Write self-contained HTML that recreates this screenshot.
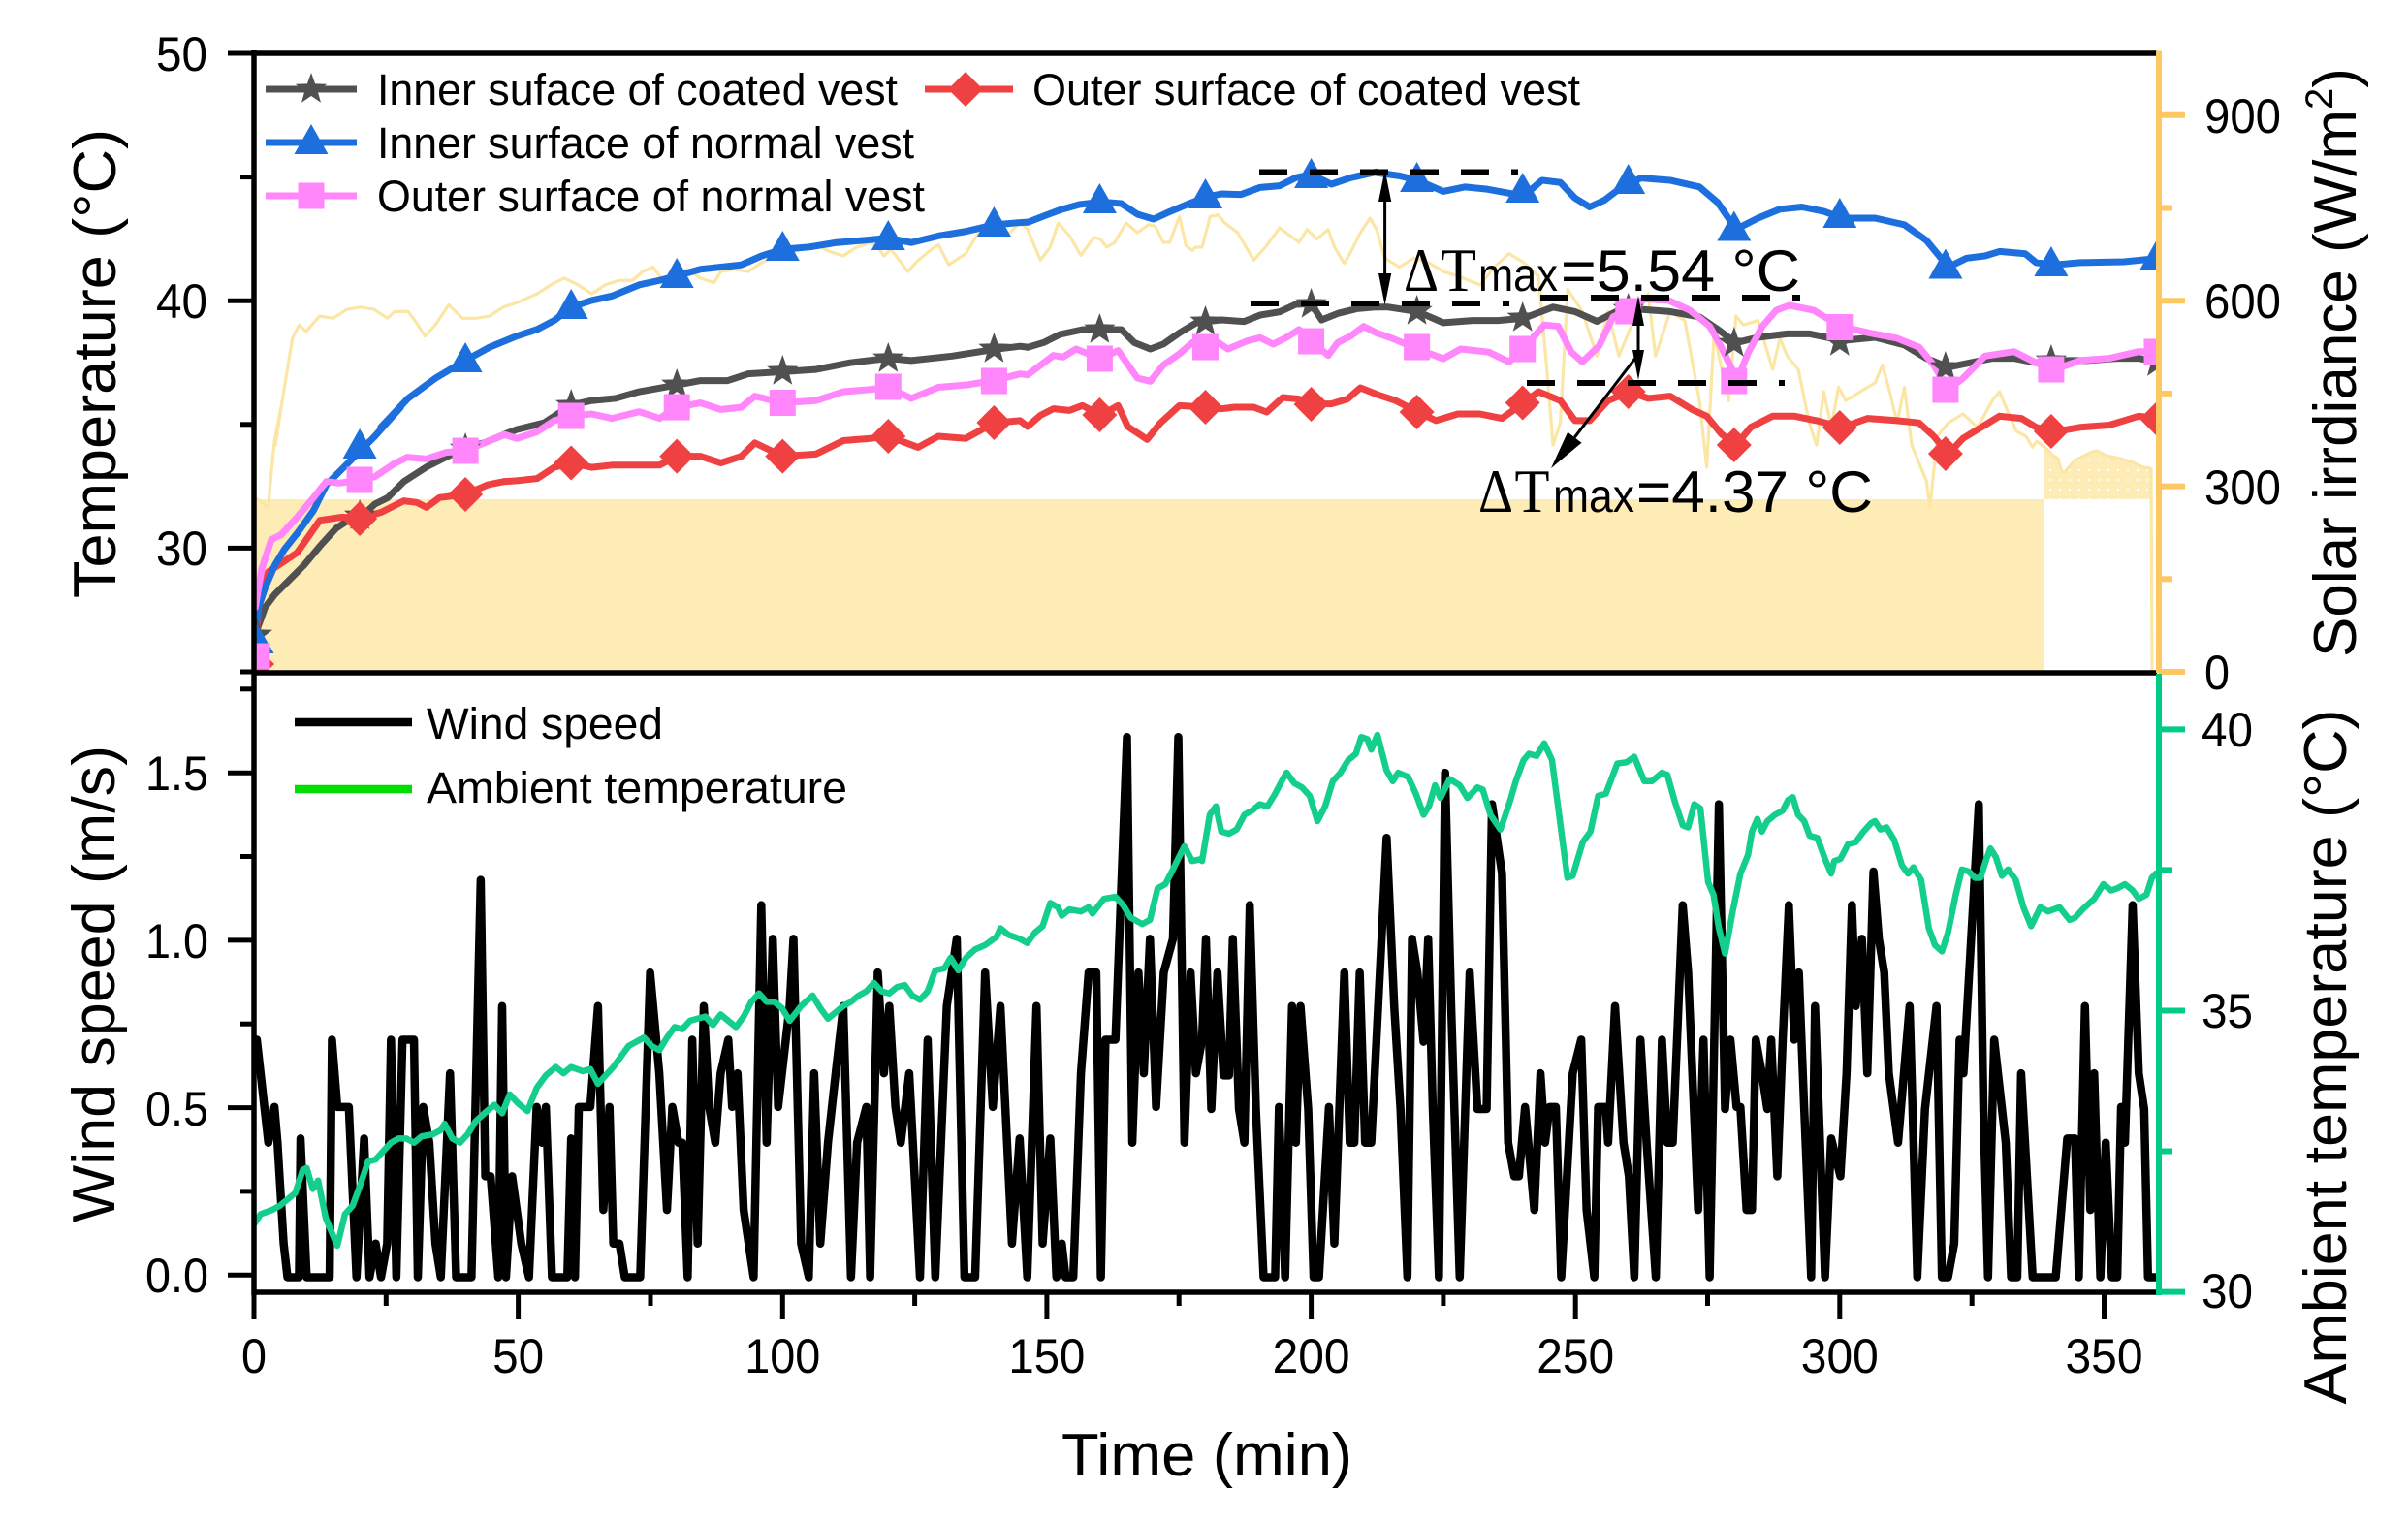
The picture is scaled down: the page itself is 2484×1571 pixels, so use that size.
<!DOCTYPE html>
<html><head><meta charset="utf-8">
<style>
html,body{margin:0;padding:0;background:#fff;}
svg{display:block;}
.ln{fill:none;vector-effect:non-scaling-stroke;stroke-linejoin:round;stroke-linecap:round;}
</style></head>
<body>
<svg width="2484" height="1571" viewBox="0 0 2484 1571" xmlns="http://www.w3.org/2000/svg" font-family="'Liberation Sans', Arial, sans-serif">
<defs>
<clipPath id="ct"><rect x="262" y="55" width="1963" height="638"/></clipPath>
<clipPath id="cb"><rect x="262" y="694" width="1963" height="639"/></clipPath>
<pattern id="dots" width="10" height="10" patternUnits="userSpaceOnUse"><rect width="10" height="10" fill="#fdecb6"/><circle cx="5" cy="5" r="1.1" fill="#fff"/></pattern>
<path id="star" d="M0,-17 L4.11,-5.66 L16.17,-5.25 L6.66,2.16 L9.99,13.75 L0,7 L-9.99,13.75 L-6.66,2.16 L-16.17,-5.25 L-4.11,-5.66Z"/>
<path id="tri" d="M0,-19 L17.5,12 L-17.5,12Z"/>
<path id="sq" d="M-13.5,-13.5h27v27h-27z"/>
<path id="dia" d="M0,-18 L18,0 L0,18 L-18,0Z"/>
</defs>
<rect width="2484" height="1571" fill="#fff"/>

<!-- ============ TOP PANEL ============ -->
<g clip-path="url(#ct)">
<rect x="262" y="515" width="1846" height="178" fill="#fdecb6"/>
<polygon points="2108,515 2108,460 2118,470 2123,473 2126.7,486.7 2130,486.7 2140,475 2156.7,466.7 2163,465 2173,470 2186.7,473 2200,476.7 2210,481.7 2219,483.3 2219,515" fill="url(#dots)"/>

<!-- solar thin line -->
<g stroke="#fbe6a6" stroke-width="3.2">
<path class="ln" transform="translate(240,420) scale(0.33333)" d="M40,285 L78,285 L110,310 L120,200 L130,100 L150,0"/>
<path class="ln" transform="scale(0.70151,0.45914)" d="M405,1000 L415,900 L430,760 L440,730 L450,745 L470,710 L490,715 L510,695 L530,690 L550,695 L570,715 L580,700 L600,700 L610,720 L625,755 L640,730 L660,685 L680,715 L700,715 L720,710 L740,690 L760,680 L790,660 L810,640 L830,625 L850,640 L870,660 L890,640 L910,630 L930,630 L945,610 L960,600 L975,630 L990,620 L1000,615 L1010,605 L1030,625 L1050,635 L1060,610 L1080,605 L1100,610 L1120,590 L1150,570 L1180,560 L1200,550 L1220,565 L1240,575 L1260,555 L1280,545 L1290,555 L1300,575 L1310,560 L1320,580 L1335,610 L1350,585 L1370,560 L1380,550 L1395,595 L1420,570 L1430,545 L1440,520 L1450,510 L1470,520 L1480,530 L1500,500 L1511,515"/>
<path class="ln" transform="translate(1060,140) scale(0.33333)" d="M0,290 L40,385 L70,345 L95,270 L130,310 L165,370 L205,315 L225,320 L245,345 L270,330 L305,270 L340,300 L375,275 L395,280 L420,330 L440,330 L470,250 L490,340 L510,355 L520,345 L540,345 L565,250 L590,245 L610,270 L650,300 L700,385 L740,340 L780,285 L840,330 L865,290 L895,320 L930,290 L950,345 L980,395 L1000,360 L1030,300 L1060,255 L1080,290"/>
<path class="ln" transform="translate(1300,0) scale(0.75512,0.45914)" d="M159,515 L170,580 L190,600 L210,580 L230,590 L250,610 L270,620 L300,640 L320,600 L340,570 L360,590 L380,620 L390,800 L400,1000 L410,950 L420,650 L440,700 L460,800 L475,700 L490,800 L510,720 L530,660 L540,800 L560,700 L580,720 L600,900 L610,1050 L620,750 L640,900 L650,710 L660,730 L680,720 L700,830 L710,760 L720,800 L735,830 L750,950 L760,1000 L770,880 L780,960 L790,870 L800,900 L820,880 L840,860 L850,820 L860,880 L870,950 L880,870 L890,1000 L910,1080 L915,1140 L925,980 L940,950 L960,930 L980,960 L1000,900 L1010,880 L1024,936 L1033,969 L1046,980 L1055,1005 L1061,991 L1069,1002"/>
<path class="ln" d="M2108,460 L2118,470 L2123,473 L2126.7,486.7 L2130,486.7 L2140,475 L2156.7,466.7 L2163,465 L2173,470 L2186.7,473 L2200,476.7 L2210,481.7 L2219,483.3 L2220,693"/>
</g>

<!-- gray: inner coated -->
<g stroke="#505050" stroke-width="7">
<path class="ln" transform="translate(240,420) scale(0.33333)" d="M75,690 L100,620 L130,580 L170,540 L220,490 L270,430 L320,375 L350,355 L392,345 L440,300 L480,280 L530,230 L600,185 L660,155 L722,125 L780,110 L840,85"/>
<path class="ln" transform="scale(0.70151,0.45914)" d="M741,976 L760,965 L800,950 L840,910 L870,900 L905,895 L940,880 L995,865 L1030,855 L1070,855 L1100,840 L1151,835 L1200,830 L1250,815 L1306,805 L1340,810 L1400,800 L1462,785 L1500,778 L1511,780"/>
<path class="ln" transform="translate(1060,140) scale(0.33333)" d="M0,655 L50,640 L100,615 L170,600 L228,600 L290,600 L330,640 L380,660 L420,645 L470,610 L520,580 L552,575 L600,570 L670,575 L720,555 L780,545 L830,522 L878,520 L910,570 L960,550 L1020,535 L1080,530"/>
<path class="ln" transform="translate(1300,0) scale(0.75512,0.45914)" d="M159,690 L175,690 L215,700 L250,725 L290,720 L325,720 L360,715 L400,690 L430,700 L460,722 L490,697 L520,695 L560,700 L600,712 L625,740 L650,770 L680,758 L720,750 L750,750 L795,765 L840,758 L880,775 L910,805 L940,825 L970,815 L1000,805 L1030,805 L1060,815 L1085,810 L1130,810 L1170,805 L1200,805 L1230,815"/>
</g>

<!-- red: outer coated -->
<g stroke="#f04142" stroke-width="7">
<path class="ln" transform="translate(240,420) scale(0.33333)" d="M65,800 L80,620 L110,510 L140,490 L200,450 L270,350 L340,340 L392,345 L460,325 L530,290 L570,295 L600,310 L640,280 L720,270 L790,240 L840,230"/>
<path class="ln" transform="scale(0.70151,0.45914)" d="M741,1082 L760,1080 L790,1075 L815,1050 L840,1040 L870,1050 L900,1045 L940,1045 L970,1045 L995,1025 L1030,1025 L1060,1040 L1090,1025 L1110,995 L1151,1025 L1200,1020 L1240,990 L1280,985 L1306,980 L1350,1005 L1380,980 L1420,985 L1462,950 L1500,945 L1511,958"/>
<path class="ln" transform="translate(1060,140) scale(0.33333)" d="M0,900 L40,865 L80,845 L130,850 L170,835 L226,865 L280,835 L310,900 L370,940 L410,890 L470,835 L552,840 L600,845 L640,840 L700,840 L740,855 L790,810 L840,815 L878,830 L940,830 L990,815 L1030,780 L1080,800"/>
<path class="ln" transform="translate(1300,0) scale(0.75512,0.45914)" d="M159,886 L185,900 L215,925 L240,945 L270,930 L300,930 L330,940 L360,905 L380,880 L410,900 L430,945 L450,945 L475,900 L505,880 L530,895 L560,890 L590,920 L610,935 L630,975 L650,1000 L670,960 L700,935 L730,935 L760,945 L795,960 L830,940 L870,945 L900,950 L920,980 L940,1020 L960,985 L990,955 L1010,935 L1040,940 L1060,960 L1085,970 L1120,960 L1160,955 L1200,935 L1230,940"/>
</g>

<!-- blue: inner normal -->
<g stroke="#1c6fdc" stroke-width="7">
<path class="ln" transform="translate(240,420) scale(0.33333)" d="M70,700 L80,620 L100,560 L130,490 L160,440 L200,390 L250,320 L290,240 L330,200 L390,140 L440,90 L520,0"/>
<path class="ln" transform="scale(0.70151,0.45914)" d="M560,960 L600,895 L640,850 L684,810 L720,780 L760,755 L790,740 L815,720 L840,690 L870,675 L900,665 L940,640 L970,630 L995,620 L1030,605 L1060,600 L1090,595 L1120,575 L1151,560 L1190,555 L1230,545 L1270,540 L1306,535 L1340,545 L1380,530 L1420,520 L1462,505 L1500,500 L1511,499"/>
<path class="ln" transform="translate(1060,140) scale(0.33333)" d="M0,268 L60,245 L100,230 L160,213 L228,205 L290,210 L340,243 L390,258 L440,235 L500,210 L552,190 L600,180 L660,182 L720,160 L780,155 L830,130 L878,120 L940,150 L1000,130 L1080,112"/>
<path class="ln" transform="translate(1300,0) scale(0.75512,0.45914)" d="M159,388 L190,395 L215,405 L250,430 L280,420 L310,425 L360,440 L385,405 L410,410 L430,445 L450,465 L470,450 L490,425 L520,400 L560,405 L600,420 L625,455 L650,515 L680,490 L710,470 L740,465 L770,475 L795,490 L840,490 L880,505 L910,540 L940,600 L965,580 L990,575 L1010,565 L1045,570 L1060,590 L1085,595 L1120,590 L1180,588 L1230,580"/>
</g>

<!-- pink: outer normal -->
<g stroke="#ff86fb" stroke-width="7">
<path class="ln" transform="translate(240,420) scale(0.33333)" d="M70,620 L90,500 L120,410 L150,395 L200,340 L250,280 L290,230 L330,235 L394,225 L440,215 L500,175 L540,155 L600,160 L660,140 L722,135 L780,110 L840,85"/>
<path class="ln" transform="scale(0.70151,0.45914)" d="M741,976 L760,985 L790,970 L815,945 L840,935 L870,930 L900,940 L940,925 L970,940 L995,915 L1030,905 L1060,920 L1090,915 L1110,890 L1151,905 L1200,900 L1240,880 L1280,875 L1306,870 L1340,895 L1380,870 L1420,865 L1462,855 L1500,840 L1511,842"/>
<path class="ln" transform="translate(1060,140) scale(0.33333)" d="M0,740 L40,710 L80,680 L110,685 L150,660 L226,690 L280,665 L340,750 L380,760 L420,710 L470,675 L510,640 L555,655 L590,640 L620,660 L680,635 L720,625 L760,645 L800,625 L840,600 L880,635 L930,680 L960,640 L1000,620 L1040,590 L1080,610"/>
<path class="ln" transform="translate(1300,0) scale(0.75512,0.45914)" d="M159,748 L180,760 L215,784 L250,806 L274,784 L312,791 L340,813 L359,784 L388,730 L407,733 L425,791 L440,813 L463,777 L482,712 L501,697 L525,672 L558,675 L587,697 L614,733 L629,777 L644,828 L650,860 L667,791 L686,733 L705,697 L723,686 L756,697 L792,733 L832,748 L870,760 L900,780 L920,820 L940,875 L960,850 L990,800 L1030,790 L1060,815 L1085,830 L1120,810 L1160,805 L1200,790 L1230,790"/>
</g>

<!-- markers -->
<g fill="#505050">
<use href="#star" x="265" y="655"/><use href="#star" x="371.1" y="532"/><use href="#star" x="480.1" y="463"/><use href="#star" x="589.2" y="418"/><use href="#star" x="698.2" y="397"/><use href="#star" x="807.3" y="383"/><use href="#star" x="916.3" y="370"/><use href="#star" x="1025.4" y="360"/><use href="#star" x="1134.4" y="340"/><use href="#star" x="1243.5" y="332"/><use href="#star" x="1352.6" y="314"/><use href="#star" x="1461.6" y="321"/><use href="#star" x="1570.7" y="328"/><use href="#star" x="1679.7" y="319"/><use href="#star" x="1788.8" y="354"/><use href="#star" x="1897.8" y="353"/><use href="#star" x="2006.9" y="379"/><use href="#star" x="2115.9" y="372"/><use href="#star" x="2225" y="374"/>
</g>
<g fill="#f04142">
<use href="#dia" x="265" y="685"/><use href="#dia" x="371.1" y="535"/><use href="#dia" x="480.1" y="510"/><use href="#dia" x="589.2" y="477.5"/><use href="#dia" x="698.2" y="470.6"/><use href="#dia" x="807.3" y="470.6"/><use href="#dia" x="916.3" y="450"/><use href="#dia" x="1025.4" y="436"/><use href="#dia" x="1134.4" y="428"/><use href="#dia" x="1243.5" y="420"/><use href="#dia" x="1352.6" y="417"/><use href="#dia" x="1461.6" y="425"/><use href="#dia" x="1570.7" y="415.5"/><use href="#dia" x="1679.7" y="404"/><use href="#dia" x="1788.8" y="459"/><use href="#dia" x="1897.8" y="441"/><use href="#dia" x="2006.9" y="468"/><use href="#dia" x="2115.9" y="445"/><use href="#dia" x="2225" y="432"/>
</g>
<g fill="#1c6fdc">
<use href="#tri" x="265" y="662"/><use href="#tri" x="371.1" y="461"/><use href="#tri" x="480.1" y="372"/><use href="#tri" x="589.2" y="317"/><use href="#tri" x="698.2" y="285"/><use href="#tri" x="807.3" y="257"/><use href="#tri" x="916.3" y="246"/><use href="#tri" x="1025.4" y="232"/><use href="#tri" x="1134.4" y="208"/><use href="#tri" x="1243.5" y="203"/><use href="#tri" x="1352.6" y="182"/><use href="#tri" x="1461.6" y="186"/><use href="#tri" x="1570.7" y="197"/><use href="#tri" x="1679.7" y="188"/><use href="#tri" x="1788.8" y="236.5"/><use href="#tri" x="1897.8" y="223"/><use href="#tri" x="2006.9" y="275.5"/><use href="#tri" x="2115.9" y="273"/><use href="#tri" x="2225" y="266"/>
</g>
<g fill="#ff86fb">
<use href="#sq" x="265" y="677"/><use href="#sq" x="371.1" y="495"/><use href="#sq" x="480.1" y="465"/><use href="#sq" x="589.2" y="429"/><use href="#sq" x="698.2" y="420"/><use href="#sq" x="807.3" y="415.5"/><use href="#sq" x="916.3" y="399"/><use href="#sq" x="1025.4" y="393"/><use href="#sq" x="1134.4" y="370"/><use href="#sq" x="1243.5" y="358"/><use href="#sq" x="1352.6" y="352"/><use href="#sq" x="1461.6" y="358"/><use href="#sq" x="1570.7" y="360"/><use href="#sq" x="1679.7" y="321"/><use href="#sq" x="1788.8" y="393"/><use href="#sq" x="1897.8" y="337.5"/><use href="#sq" x="2006.9" y="402"/><use href="#sq" x="2115.9" y="381"/><use href="#sq" x="2225" y="363"/>
</g>
</g>

<!-- annotations -->
<g stroke="#000" stroke-width="6" stroke-dasharray="29 23">
<line x1="1299" y1="177.5" x2="1566" y2="177.5"/>
<line x1="1290" y1="313" x2="1557" y2="313"/>
<line x1="1589" y1="307" x2="1857" y2="307"/>
<line x1="1575" y1="395" x2="1841" y2="395"/>
</g>
<g stroke="#000" stroke-width="3">
<line x1="1428.6" y1="200" x2="1428.6" y2="290"/>
<line x1="1690" y1="330" x2="1690" y2="367"/>
<line x1="1688" y1="368" x2="1624.3" y2="451.2"/>
</g>
<g fill="#000">
<polygon points="1428.6,175 1422,208 1435.2,208"/>
<polygon points="1428.6,315 1422,282 1435.2,282"/>
<polygon points="1690,305 1684,336 1696,336"/>
<polygon points="1690,392 1684,361 1696,361"/>
<polygon points="1600,483 1631.5,456.7 1617.2,445.7"/>
</g>
<g fill="#000">
<text x="1448" y="300" font-family="'Liberation Serif', serif" font-size="64" textLength="36" lengthAdjust="spacingAndGlyphs">Δ</text>
<text x="1486" y="300" font-family="'Liberation Serif', serif" font-size="64" textLength="37" lengthAdjust="spacingAndGlyphs">T</text>
<text x="1525" y="300" font-size="48" textLength="82" lengthAdjust="spacingAndGlyphs">max</text>
<text x="1610" y="300" font-size="60" textLength="247" lengthAdjust="spacingAndGlyphs">=5.54 °C</text>
<text x="1525" y="528" font-family="'Liberation Serif', serif" font-size="64" textLength="36" lengthAdjust="spacingAndGlyphs">Δ</text>
<text x="1562.5" y="528" font-family="'Liberation Serif', serif" font-size="64" textLength="36" lengthAdjust="spacingAndGlyphs">T</text>
<text x="1602" y="528" font-size="48" textLength="84" lengthAdjust="spacingAndGlyphs">max</text>
<text x="1688" y="528" font-size="60" textLength="244" lengthAdjust="spacingAndGlyphs">=4.37 °C</text>
</g>

<!-- top legend -->
<g stroke-width="7" fill="none">
<line x1="274" y1="92" x2="368" y2="92" stroke="#505050"/>
<line x1="954" y1="92" x2="1045" y2="92" stroke="#f04142"/>
<line x1="274" y1="147" x2="368" y2="147" stroke="#1c6fdc"/>
<line x1="274" y1="202" x2="368" y2="202" stroke="#ff86fb"/>
</g>
<use href="#star" x="321" y="92" fill="#505050"/>
<use href="#dia" x="996" y="92" fill="#f04142"/>
<use href="#tri" x="321" y="147" fill="#1c6fdc"/>
<use href="#sq" x="321" y="202" fill="#ff86fb"/>
<g font-size="45" fill="#000">
<text x="389" y="108" textLength="537" lengthAdjust="spacingAndGlyphs">Inner suface of coated vest</text>
<text x="1065" y="108" textLength="565" lengthAdjust="spacingAndGlyphs">Outer surface of coated vest</text>
<text x="389" y="163" textLength="554" lengthAdjust="spacingAndGlyphs">Inner surface of normal vest</text>
<text x="389" y="218" textLength="565" lengthAdjust="spacingAndGlyphs">Outer surface of normal vest</text>
</g>

<!-- ============ BOTTOM PANEL ============ -->
<g clip-path="url(#cb)">
<g stroke="#000" stroke-width="8.5">
<path class="ln" transform="translate(0,680) scale(0.79083,0.43365)" d="M331,905 L335,905 L350,1150 L358,1065 L362,1150 L370,1390 L375,1470 L390,1470 L392,1140 L400,1470 L430,1470 L433,905 L440,1065 L455,1065 L465,1470 L475,1140 L482,1470 L490,1390 L497,1470 L505,1390 L510,905 L517,1470 L525,905 L540,905 L545,1470 L552,1065 L560,1150 L568,1390 L575,1470 L587,985 L595,1470 L615,1470 L627,525 L633,1230 L640,1230 L650,1470 L655,825 L660,1470 L668,1230 L680,1390 L690,1470 L700,1065 L707,1150 L712,1065 L720,1470 L740,1470 L745,1140 L750,1470 L755,1065 L770,1065 L780,825 L787,1310 L795,1065 L800,1390 L808,1390 L815,1470 L835,1470 L848,745 L860,985 L870,1310 L877,1065 L885,1150 L890,1150 L897,1470 L903,905 L910,1390 L918,825 L925,1065 L933,1150 L940,985 L950,905 L955,1065 L962,985 L970,1310 L983,1470 L993,585 L1000,1150 L1008,665 L1015,1065 L1030,825 L1035,665 L1045,1390 L1055,1470 L1062,985 L1070,1390 L1080,1150 L1090,985 L1100,825 L1110,1470 L1118,1150 L1130,1065 L1135,1470 L1145,745 L1153,985 L1160,825 L1168,1065 L1175,1150 L1186,985 L1200,1470 L1210,905 L1220,1470 L1235,825 L1248,665 L1258,1470 L1272,1470 L1285,745 L1295,1065 L1305,825 L1320,1390 L1330,1140 L1340,1470 L1352,825 L1360,1390 L1370,1140 L1378,1470 L1385,1390 L1390,1470 L1400,1470 L1410,985 L1420,745 L1430,745 L1436,1470 L1442,905 L1455,905 L1470,185 L1477,1150 L1485,745 L1492,985 L1500,665 L1508,1065 L1518,745 L1530,665 L1537,185 L1545,1150 L1553,745 L1560,985 L1568,905"/>
<path class="ln" transform="translate(1240,680) scale(0.79334,0.43365)" d="M0,905 L5,665 L12,1070 L20,745 L28,990 L35,990 L40,665 L48,1070 L55,1150 L62,585 L70,1070 L80,1470 L95,1470 L100,1065 L108,1470 L117,825 L122,1150 L128,825 L138,1070 L145,1470 L152,1470 L165,1065 L172,1390 L185,745 L192,1150 L198,1150 L205,745 L212,1150 L220,1150 L240,425 L250,830 L258,1070 L267,1470 L273,665 L280,745 L288,910 L294,665 L300,1070 L308,1470 L316,270 L324,830 L335,1470 L348,745 L358,1070 L370,1070 L377,345 L390,510 L398,1150 L406,1230 L412,1230 L420,1065 L432,1310 L440,985 L446,1150 L452,1065 L460,1065 L467,1470 L482,985 L493,905 L500,1310 L510,1470 L515,1065 L525,1065 L528,1150 L537,825 L548,1150 L555,1230 L562,1470 L570,905 L578,1150 L590,1470 L598,905 L605,1150 L612,1150 L625,585 L632,745 L645,1310 L652,905 L660,1470 L672,345 L680,1070 L687,905 L695,1065 L700,1065 L708,1310 L715,1310 L720,905 L728,985 L735,1070 L740,905 L748,1230 L755,905 L763,585 L770,905 L776,745 L783,1070 L792,1470 L797,825 L810,1470 L818,1140 L830,1230 L838,985 L845,585 L850,825 L858,665 L865,985 L873,505 L880,665 L887,745 L893,985 L905,1150 L920,825 L930,1470 L940,1070 L955,825 L962,1470 L970,1470 L978,1390 L985,905 L990,985 L1000,665 L1010,345 L1016,1070 L1022,1470 L1030,905 L1045,1150 L1052,1470 L1060,1470 L1065,985 L1080,1470 L1110,1470 L1125,1140 L1135,1140 L1140,1470 L1148,825 L1155,1310 L1160,985 L1168,1470 L1175,1150 L1183,1470 L1190,1470 L1195,1065 L1200,1150 L1210,585 L1218,985 L1225,1070 L1230,1470 L1240,1470"/>
</g>
<g stroke="#14cf8b" stroke-width="6.5">
<path class="ln" transform="translate(0,680) scale(0.79083,0.43365)" d="M331,1345 L340,1320 L355,1310 L365,1300 L375,1285 L385,1270 L395,1215 L400,1210 L408,1260 L415,1240 L425,1330 L440,1395 L450,1320 L460,1300 L470,1250 L480,1195 L490,1190 L500,1170 L510,1150 L520,1140 L530,1140 L540,1150 L550,1135 L565,1130 L575,1120 L580,1105 L590,1140 L600,1150 L610,1130 L620,1100 L635,1075 L645,1060 L655,1080 L665,1035 L675,1055 L688,1075 L700,1020 L712,990 L725,970 L735,985 L745,970 L760,980 L770,975 L780,1010 L790,990 L800,970 L810,945 L820,920 L830,910 L840,900 L850,920 L860,930 L870,900 L880,875 L890,880 L900,860 L910,855 L920,850 L930,870 L940,845 L950,860 L960,875 L970,850 L980,815 L990,795 L1000,815 L1010,815 L1020,830 L1030,860 L1045,825 L1060,800 L1070,830 L1080,855 L1090,840 L1100,825 L1110,815 L1120,800 L1130,790 L1140,770 L1150,790 L1160,795 L1170,780 L1180,775 L1190,800 L1200,810 L1210,790 L1220,740 L1232,735 L1240,710 L1250,740 L1260,710 L1272,690 L1285,680 L1300,660 L1305,640 L1315,655 L1330,665 L1340,675 L1350,650 L1360,635 L1370,580 L1380,590 L1385,610 L1395,595 L1410,600 L1420,590 L1425,605 L1440,570 L1455,565 L1465,585 L1475,615 L1490,630 L1500,620 L1510,545 L1520,535 L1530,500 L1538,470 L1545,445 L1555,480 L1568,475"/>
<path class="ln" transform="translate(1240,680) scale(0.79334,0.43365)" d="M0,480 L10,370 L18,350 L25,410 L35,415 L45,405 L55,370 L65,360 L75,345 L85,350 L95,320 L105,285 L110,270 L120,295 L130,305 L140,325 L150,385 L160,350 L170,290 L180,270 L190,240 L200,225 L207,185 L215,190 L220,215 L228,180 L240,265 L248,290 L255,270 L268,280 L278,320 L288,370 L295,350 L303,300 L310,330 L322,285 L335,300 L345,330 L358,305 L365,310 L375,370 L388,405 L400,340 L408,290 L418,240 L425,225 L435,230 L445,200 L455,240 L465,380 L475,520 L482,515 L495,435 L505,410 L515,325 L525,320 L540,248 L552,245 L562,232 L575,290 L585,290 L598,270 L605,275 L615,340 L625,395 L632,400 L640,345 L648,355 L658,530 L665,560 L672,640 L680,700 L690,600 L700,510 L710,465 L715,410 L722,380 L728,410 L735,385 L745,370 L755,360 L762,335 L768,328 L775,370 L783,385 L790,420 L800,425 L810,475 L818,510 L822,480 L830,475 L840,440 L850,435 L860,410 L870,390 L875,385 L882,405 L890,400 L900,430 L910,490 L918,510 L925,495 L935,525 L945,640 L953,680 L962,695 L970,650 L980,560 L988,500 L997,505 L1005,520 L1012,520 L1020,475 L1025,450 L1032,470 L1040,515 L1048,500 L1058,525 L1068,590 L1078,635 L1090,590 L1100,600 L1115,590 L1128,620 L1135,615 L1145,595 L1160,570 L1172,535 L1182,550 L1190,545 L1200,535 L1210,550 L1218,570 L1228,560 L1235,520 L1240,510"/>
</g>
</g>

<!-- bottom legend -->
<line x1="304" y1="745" x2="425" y2="745" stroke="#000" stroke-width="8.5"/>
<line x1="304" y1="814" x2="425" y2="814" stroke="#00dd00" stroke-width="8.5"/>
<g font-size="45" fill="#000">
<text x="440" y="762" textLength="244" lengthAdjust="spacingAndGlyphs">Wind speed</text>
<text x="440" y="828" textLength="434" lengthAdjust="spacingAndGlyphs">Ambient temperature</text>
</g>

<!-- ============ AXES / FRAME ============ -->
<g stroke="#000" stroke-width="5.5">
<line x1="259" y1="55" x2="2225" y2="55"/>
<line x1="262" y1="52" x2="262" y2="1336"/>
<line x1="262" y1="694" x2="2225" y2="694"/>
<line x1="262" y1="1333" x2="2225" y2="1333"/>
</g>
<g stroke="#000" stroke-width="5">
<line x1="235" y1="55" x2="262" y2="55"/>
<line x1="235" y1="310.2" x2="262" y2="310.2"/>
<line x1="235" y1="565.4" x2="262" y2="565.4"/>
<line x1="248" y1="182.6" x2="262" y2="182.6"/>
<line x1="248" y1="437.8" x2="262" y2="437.8"/>
<line x1="248" y1="693" x2="262" y2="693"/>
<line x1="235" y1="797.2" x2="262" y2="797.2"/>
<line x1="235" y1="969.9" x2="262" y2="969.9"/>
<line x1="235" y1="1142.6" x2="262" y2="1142.6"/>
<line x1="235" y1="1315.3" x2="262" y2="1315.3"/>
<line x1="248" y1="710.8" x2="262" y2="710.8"/>
<line x1="248" y1="883.5" x2="262" y2="883.5"/>
<line x1="248" y1="1056.2" x2="262" y2="1056.2"/>
<line x1="248" y1="1228.9" x2="262" y2="1228.9"/>
<line x1="262" y1="1333" x2="262" y2="1361"/>
<line x1="534.6" y1="1333" x2="534.6" y2="1361"/>
<line x1="807.3" y1="1333" x2="807.3" y2="1361"/>
<line x1="1079.9" y1="1333" x2="1079.9" y2="1361"/>
<line x1="1352.6" y1="1333" x2="1352.6" y2="1361"/>
<line x1="1625.2" y1="1333" x2="1625.2" y2="1361"/>
<line x1="1897.8" y1="1333" x2="1897.8" y2="1361"/>
<line x1="2170.5" y1="1333" x2="2170.5" y2="1361"/>
<line x1="398.3" y1="1333" x2="398.3" y2="1347"/>
<line x1="671" y1="1333" x2="671" y2="1347"/>
<line x1="943.6" y1="1333" x2="943.6" y2="1347"/>
<line x1="1216.2" y1="1333" x2="1216.2" y2="1347"/>
<line x1="1488.9" y1="1333" x2="1488.9" y2="1347"/>
<line x1="1761.5" y1="1333" x2="1761.5" y2="1347"/>
<line x1="2034.2" y1="1333" x2="2034.2" y2="1347"/>
</g>
<g stroke="#fdc862" stroke-width="6">
<line x1="2227" y1="52.5" x2="2227" y2="694"/>
<line x1="2227" y1="693" x2="2254" y2="693"/>
<line x1="2227" y1="501.6" x2="2254" y2="501.6"/>
<line x1="2227" y1="310.2" x2="2254" y2="310.2"/>
<line x1="2227" y1="118.8" x2="2254" y2="118.8"/>
<line x1="2227" y1="597.3" x2="2241" y2="597.3"/>
<line x1="2227" y1="405.9" x2="2241" y2="405.9"/>
<line x1="2227" y1="214.5" x2="2241" y2="214.5"/>
</g>
<g stroke="#00cc88" stroke-width="6">
<line x1="2227" y1="695" x2="2227" y2="1336"/>
<line x1="2227" y1="1332.6" x2="2254" y2="1332.6"/>
<line x1="2227" y1="1042.5" x2="2254" y2="1042.5"/>
<line x1="2227" y1="752.4" x2="2254" y2="752.4"/>
<line x1="2227" y1="1187.5" x2="2241" y2="1187.5"/>
<line x1="2227" y1="897.4" x2="2241" y2="897.4"/>
</g>

<!-- tick labels -->
<g font-size="50" fill="#000">
<text x="214" y="73" text-anchor="end" textLength="53" lengthAdjust="spacingAndGlyphs">50</text>
<text x="214" y="328" text-anchor="end" textLength="53" lengthAdjust="spacingAndGlyphs">40</text>
<text x="214" y="583" text-anchor="end" textLength="53" lengthAdjust="spacingAndGlyphs">30</text>
<text x="215" y="815" text-anchor="end" textLength="65" lengthAdjust="spacingAndGlyphs">1.5</text>
<text x="215" y="988" text-anchor="end" textLength="65" lengthAdjust="spacingAndGlyphs">1.0</text>
<text x="215" y="1161" text-anchor="end" textLength="65" lengthAdjust="spacingAndGlyphs">0.5</text>
<text x="215" y="1333" text-anchor="end" textLength="65" lengthAdjust="spacingAndGlyphs">0.0</text>
<text x="262" y="1416" text-anchor="middle" textLength="26" lengthAdjust="spacingAndGlyphs">0</text>
<text x="534.6" y="1416" text-anchor="middle" textLength="53" lengthAdjust="spacingAndGlyphs">50</text>
<text x="807.3" y="1416" text-anchor="middle" textLength="78" lengthAdjust="spacingAndGlyphs">100</text>
<text x="1079.9" y="1416" text-anchor="middle" textLength="79" lengthAdjust="spacingAndGlyphs">150</text>
<text x="1352.6" y="1416" text-anchor="middle" textLength="80" lengthAdjust="spacingAndGlyphs">200</text>
<text x="1625.2" y="1416" text-anchor="middle" textLength="80" lengthAdjust="spacingAndGlyphs">250</text>
<text x="1897.8" y="1416" text-anchor="middle" textLength="80" lengthAdjust="spacingAndGlyphs">300</text>
<text x="2170.5" y="1416" text-anchor="middle" textLength="80" lengthAdjust="spacingAndGlyphs">350</text>
<text x="2274" y="137" textLength="79" lengthAdjust="spacingAndGlyphs">900</text>
<text x="2274" y="328" textLength="79" lengthAdjust="spacingAndGlyphs">600</text>
<text x="2274" y="520" textLength="79" lengthAdjust="spacingAndGlyphs">300</text>
<text x="2274" y="711" textLength="26" lengthAdjust="spacingAndGlyphs">0</text>
<text x="2271" y="770" textLength="53" lengthAdjust="spacingAndGlyphs">40</text>
<text x="2271" y="1060" textLength="53" lengthAdjust="spacingAndGlyphs">35</text>
<text x="2271" y="1349" textLength="53" lengthAdjust="spacingAndGlyphs">30</text>
</g>

<!-- axis titles -->
<g font-size="62" fill="#000">
<text transform="translate(119,375) rotate(-90)" text-anchor="middle" textLength="484" lengthAdjust="spacingAndGlyphs">Temperature (°C)</text>
<text transform="translate(118,1015) rotate(-90)" text-anchor="middle" textLength="492" lengthAdjust="spacingAndGlyphs">Wind speed (m/s)</text>
<text x="1245" y="1522" text-anchor="middle" textLength="300" lengthAdjust="spacingAndGlyphs">Time (min)</text>
<text transform="translate(2430,374) rotate(-90)" text-anchor="middle">Solar irrdiance (W/m<tspan font-size="40" dy="-24">2</tspan><tspan dy="24">)</tspan></text>
<text transform="translate(2420,1090) rotate(-90)" text-anchor="middle" textLength="717" lengthAdjust="spacingAndGlyphs">Ambient temperature (°C)</text>
</g>
</svg>
</body></html>
